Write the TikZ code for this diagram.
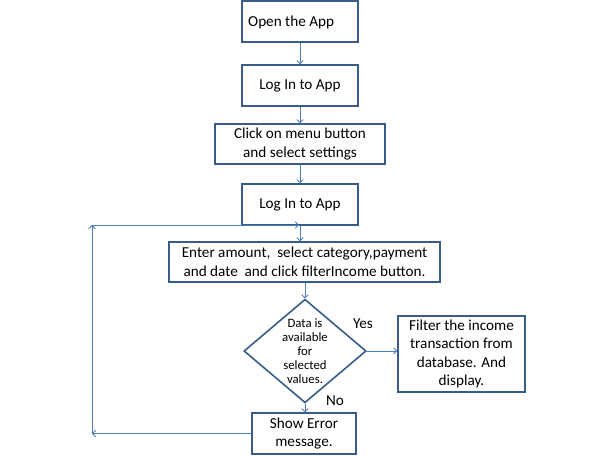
\documentclass[tikz,border=0pt]{standalone}
\usepackage{fontspec}
\setmainfont{Carlito}
\usetikzlibrary{shapes.geometric,arrows.meta}
\definecolor{boxc}{HTML}{385D8A}
\definecolor{linec}{HTML}{4A7EBB}
\tikzset{
  box/.style={draw=boxc, line width=1.6pt, fill=white, inner sep=0pt, align=center,
    font=\fontsize{15.2}{18.5}\selectfont},
  dec/.style={diamond, draw=boxc, line width=1.6pt, fill=white, inner sep=0pt, align=center,
    minimum width=116pt, minimum height=98pt, aspect=1.18,
    font=\fontsize{12.8}{14}\selectfont},
  conn/.style={draw=linec, line width=0.9pt, -{Straight Barb[length=3pt,width=6.5pt]}},
  lbl/.style={font=\fontsize{15.2}{18}\selectfont, inner sep=0pt},
}
\begin{document}
\begin{tikzpicture}[x=1pt,y=-1pt]
\useasboundingbox (0,0) rectangle (593,455);
\node[box, minimum width=116pt, minimum height=41pt] (b1) at (300,21.5) {};
\node[lbl, anchor=west] (t1) at (248,22) {Open the App};
\node[box, minimum width=116pt, minimum height=41pt] (b2) at (300,85.5) {Log In to App};
\node[box, minimum width=170pt, minimum height=40pt] (b3) at (300,144) {Click on menu button\\and select settings};
\node[box, minimum width=116pt, minimum height=41pt] (b4) at (300,204.5) {Log In to App};
\node[box, minimum width=271pt, minimum height=40pt] (b5) at (304.5,262) {Enter amount,\ \ select category,payment\\and date\ \ and click filterIncome button.};
\node[dec] (d) at (305,351) {Data is\\available\\for\\selected\\values.};
\node[box, minimum width=127pt, minimum height=76pt] (b6) at (461.5,354) {Filter the income\\transaction from\\database. And\\display.};
\node[box, minimum width=104pt, minimum height=41pt] (b7) at (304,433.5) {Show Error\\message.};
\node[lbl] (yes) at (363,324) {Yes};
\node[lbl] (no) at (335,401) {No};
\coordinate (lb) at (92,433.5);
\coordinate (lt) at (92,225);
\coordinate (lm) at (299,225);
\draw[conn] (b1) -- (b2);
\draw[conn] (b2) -- (b3);
\draw[conn] (b3.south -| b4) -- (b4);
\draw[conn] (b4.south) -- (b4.south |- b5.north);
\draw[conn] (d.north |- b5.south) -- (d.north);
\draw[conn] (d.east) -- (d.east -| b6.west);
\draw[conn] (d.south) -- (d.south |- b7.north);
\draw[conn] (b7.west) -- (lb);
\draw[conn] (lb) -- (lt);
\draw[conn] (lt) -- (lm);
\end{tikzpicture}
\end{document}
